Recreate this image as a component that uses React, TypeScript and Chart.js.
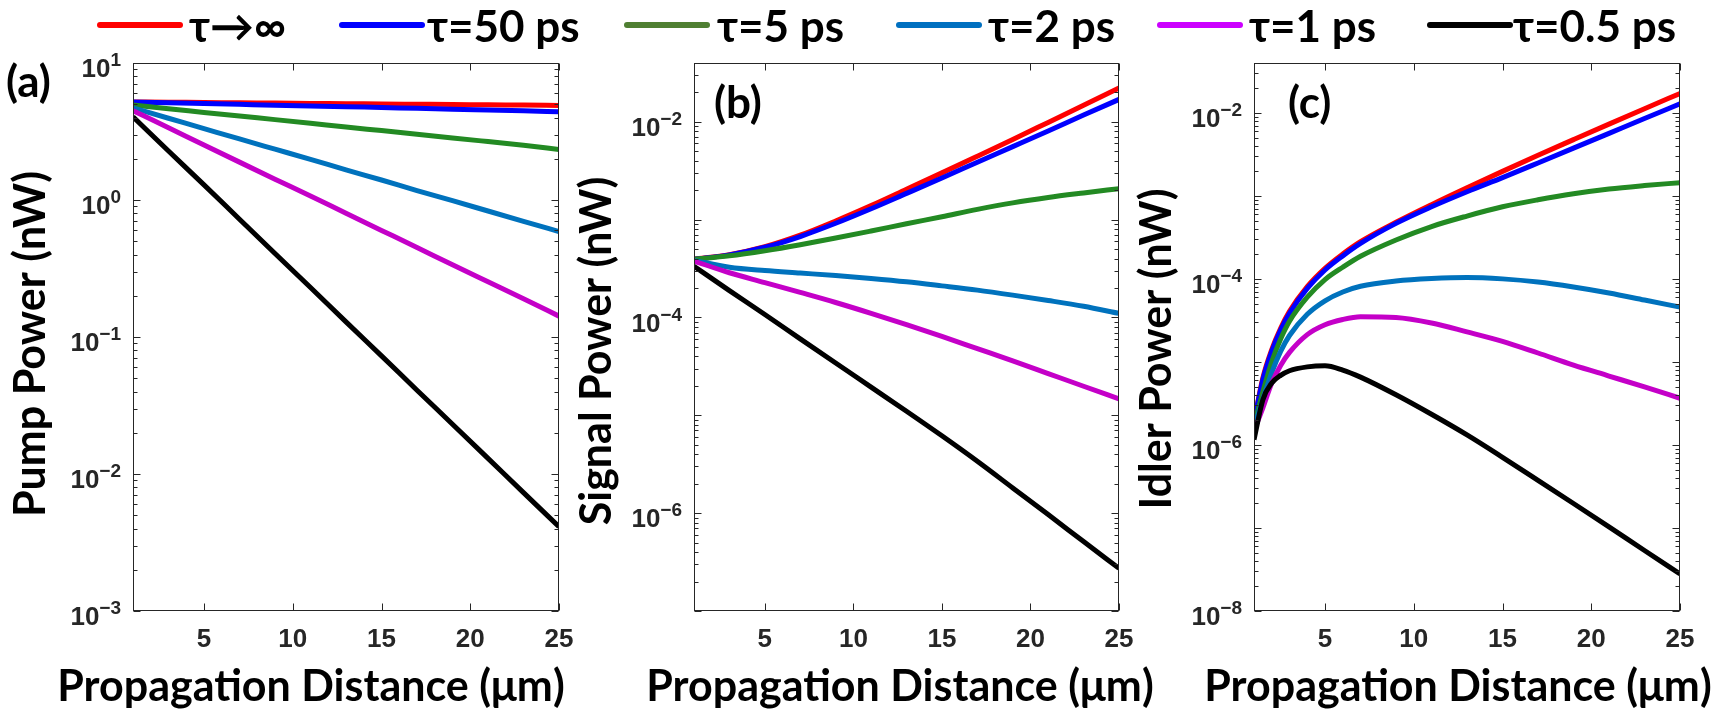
import React, { useEffect, useRef } from "react";
import { Chart, registerables } from "chart.js";

Chart.register(...registerables);

// Series labels and colours (pulse duration τ)
const SERIES_LABELS = ["τ→∞", "τ=50 ps", "τ=5 ps", "τ=2 ps", "τ=1 ps", "τ=0.5 ps"];
const SERIES_COLORS = ["#ff0000", "#0000ff", "#238a23", "#0072bd", "#c400c8", "#000000"];
const LEGEND_COLORS = ["#ff0000", "#0000ff", "#4f7f32", "#0070c0", "#cc00ff", "#000000"];

// Shared x ticks (µm)
const X_TICKS = [5, 10, 15, 20, 25];

// (a) Pump power (nW)
const PUMP_X = [1, 3, 5, 7, 9, 11, 13, 15, 17, 19, 21, 23, 25];
const PUMP_INF = [5.2, 5.17, 5.15, 5.12, 5.1, 5.07, 5.05, 5.02, 5.0, 4.98, 4.95, 4.93, 4.9];
const PUMP_50 = [5.2, 5.13, 5.06, 4.99, 4.92, 4.86, 4.8, 4.73, 4.67, 4.6, 4.54, 4.48, 4.41];
const PUMP_5 = [4.93, 4.64, 4.36, 4.1, 3.86, 3.63, 3.41, 3.21, 3.02, 2.84, 2.67, 2.51, 2.34];
const PUMP_2 = [4.7, 3.95, 3.32, 2.79, 2.35, 1.98, 1.66, 1.4, 1.17, 0.988, 0.831, 0.699, 0.588];
const PUMP_1 = [4.49, 3.37, 2.52, 1.89, 1.42, 1.07, 0.8, 0.6, 0.45, 0.337, 0.253, 0.19, 0.142];
const PUMP_05 = [4.05, 2.28, 1.29, 0.724, 0.407, 0.23, 0.129, 0.0728, 0.0409, 0.0231, 0.013, 0.00731, 0.00412];
const PUMP_Y_EXP = [-3, -2, -1, 0, 1];

// (b) Signal power (nW)
const SIGNAL_X = [1, 3, 5, 7, 9, 11, 13, 15, 17, 19, 21, 23, 25];
const SIGNAL_INF = [3.93e-4, 4.38e-4, 5.28e-4, 6.93e-4, 9.68e-4, 1.39e-3, 2.04e-3, 3.0e-3, 4.44e-3, 6.59e-3, 9.84e-3, 1.47e-2, 2.21e-2];
const SIGNAL_50 = [3.93e-4, 4.36e-4, 5.21e-4, 6.71e-4, 9.16e-4, 1.29e-3, 1.85e-3, 2.66e-3, 3.85e-3, 5.56e-3, 8.04e-3, 1.17e-2, 1.69e-2];
const SIGNAL_5 = [3.93e-4, 4.26e-4, 4.8e-4, 5.53e-4, 6.47e-4, 7.64e-4, 9.06e-4, 1.07e-3, 1.27e-3, 1.48e-3, 1.68e-3, 1.87e-3, 2.07e-3];
const SIGNAL_2 = [3.83e-4, 3.26e-4, 3.01e-4, 2.84e-4, 2.68e-4, 2.5e-4, 2.31e-4, 2.1e-4, 1.9e-4, 1.69e-4, 1.49e-4, 1.3e-4, 1.1e-4];
const SIGNAL_1 = [3.77e-4, 2.86e-4, 2.27e-4, 1.8e-4, 1.42e-4, 1.1e-4, 8.43e-5, 6.4e-5, 4.8e-5, 3.6e-5, 2.67e-5, 1.98e-5, 1.47e-5];
const SIGNAL_05 = [3.33e-4, 1.88e-4, 1.07e-4, 6.04e-5, 3.42e-5, 1.94e-5, 1.1e-5, 6.17e-6, 3.39e-6, 1.81e-6, 9.66e-7, 5.13e-7, 2.73e-7];
const SIGNAL_Y_EXP = [-6, -4, -2];

// (c) Idler power (nW)
const IDLER_X = [1, 1.5, 2, 2.5, 3, 4, 5, 6, 7, 9, 11, 13, 15, 17, 19, 21, 23, 25];
const IDLER_INF = [1.89e-6, 6.44e-6, 1.41e-5, 2.54e-5, 4.06e-5, 8.06e-5, 1.34e-4, 1.99e-4, 2.8e-4, 4.8e-4, 7.83e-4, 1.25e-3, 1.97e-3, 3.08e-3, 4.75e-3, 7.31e-3, 1.12e-2, 1.71e-2];
const IDLER_50 = [1.89e-6, 6.12e-6, 1.34e-5, 2.42e-5, 3.86e-5, 7.67e-5, 1.28e-4, 1.89e-4, 2.67e-4, 4.66e-4, 7.38e-4, 1.12e-3, 1.66e-3, 2.49e-3, 3.75e-3, 5.66e-3, 8.55e-3, 1.28e-2];
const IDLER_5 = [1.71e-6, 4.35e-6, 1.0e-5, 1.89e-5, 3.09e-5, 6.01e-5, 9.8e-5, 1.38e-4, 1.87e-4, 2.94e-4, 4.27e-4, 5.71e-4, 7.38e-4, 8.97e-4, 1.06e-3, 1.21e-3, 1.33e-3, 1.44e-3];
const IDLER_2 = [1.63e-6, 3.57e-6, 7.45e-6, 1.34e-5, 2.08e-5, 3.75e-5, 5.45e-5, 6.96e-5, 8.14e-5, 9.42e-5, 1.01e-4, 1.04e-4, 1.0e-4, 9.16e-5, 7.98e-5, 6.76e-5, 5.56e-5, 4.57e-5];
const IDLER_1 = [1.48e-6, 2.8e-6, 5.56e-6, 9.06e-6, 1.3e-5, 2.13e-5, 2.8e-5, 3.24e-5, 3.49e-5, 3.42e-5, 2.94e-5, 2.3e-5, 1.77e-5, 1.28e-5, 9.16e-6, 6.76e-6, 4.99e-6, 3.65e-6];
const IDLER_05 = [1.16e-6, 3.51e-6, 5.56e-6, 6.89e-6, 7.83e-6, 8.71e-6, 8.98e-6, 7.98e-6, 6.56e-6, 4.02e-6, 2.34e-6, 1.32e-6, 7.1e-7, 3.75e-7, 1.97e-7, 1.03e-7, 5.35e-8, 2.8e-8];
const IDLER_Y_EXP = [-8, -6, -4, -2];

const W = 1723;
const H = 721;
const TITLE_FONT = "Lato, 'Open Sans', 'DejaVu Sans', sans-serif";
const TICK_FONT = "'Liberation Sans', Arial, sans-serif";
const AXIS_COLOR = "#262626";

type PanelSpec = {
  xs: number[];
  series: number[][];
  yMin: number;
  yMax: number;
  yExp: number[];
  area: { left: number; right: number; top: number; bottom: number };
  label: string;
  labelX: number;
  labelY: number;
  yTitle: string;
  yTitleX: number;
  yTitleY: number;
  xTitleX: number;
};

const PANELS: PanelSpec[] = [
  {
    xs: PUMP_X,
    series: [PUMP_INF, PUMP_50, PUMP_5, PUMP_2, PUMP_1, PUMP_05],
    yMin: 1e-3,
    yMax: 10,
    yExp: PUMP_Y_EXP,
    area: { left: 133, right: 559, top: 63, bottom: 611 },
    label: "(a)",
    labelX: 6,
    labelY: 83,
    yTitle: "Pump Power (nW)",
    yTitleX: 31,
    yTitleY: 344,
    xTitleX: 311,
  },
  {
    xs: SIGNAL_X,
    series: [SIGNAL_INF, SIGNAL_50, SIGNAL_5, SIGNAL_2, SIGNAL_1, SIGNAL_05],
    yMin: 1e-7,
    yMax: 0.0398,
    yExp: SIGNAL_Y_EXP,
    area: { left: 694, right: 1119, top: 63, bottom: 611 },
    label: "(b)",
    labelX: 714,
    labelY: 104,
    yTitle: "Signal Power (nW)",
    yTitleX: 597,
    yTitleY: 351,
    xTitleX: 900,
  },
  {
    xs: IDLER_X,
    series: [IDLER_INF, IDLER_50, IDLER_5, IDLER_2, IDLER_1, IDLER_05],
    yMin: 1e-8,
    yMax: 0.0398,
    yExp: IDLER_Y_EXP,
    area: { left: 1254, right: 1680, top: 63, bottom: 611 },
    label: "(c)",
    labelX: 1288,
    labelY: 104,
    yTitle: "Idler Power (nW)",
    yTitleX: 1157,
    yTitleY: 349,
    xTitleX: 1458,
  },
];

const LEGEND_LINE_X = [97, 339, 624, 896, 1157, 1427];
const LEGEND_TEXT_X = [189, 427, 717, 988, 1249, 1513];

// Axes box, inward ticks, tick labels with exponents, titles and panel tag
const panelDecor = {
  id: "panelDecor",
  afterDatasetsDraw(chart: any, _args: any, opts: any) {
    const { ctx, chartArea: a, scales } = chart;
    const xs = scales.x;
    const ys = scales.y;
    const p: PanelSpec = opts.panel;
    ctx.save();

    ctx.strokeStyle = AXIS_COLOR;
    ctx.lineWidth = 1;
    const L = Math.round(a.left) + 0.5;
    const R = Math.round(a.right) - 0.5;
    const T = Math.round(a.top) + 0.5;
    const B = Math.round(a.bottom) - 0.5;
    ctx.strokeRect(L, T, R - L, B - T);

    ctx.beginPath();
    X_TICKS.forEach((v) => {
      const px = Math.round(xs.getPixelForValue(v)) + 0.5;
      ctx.moveTo(px, B);
      ctx.lineTo(px, B - 7);
      ctx.moveTo(px, T);
      ctx.lineTo(px, T + 7);
    });
    const dLo = Math.floor(Math.log10(p.yMin));
    const dHi = Math.ceil(Math.log10(p.yMax));
    for (let d = dLo; d <= dHi; d++) {
      for (let m = 1; m <= 9; m++) {
        const v = m * Math.pow(10, d);
        if (v < p.yMin * 0.999 || v > p.yMax * 1.001) continue;
        const py = Math.round(ys.getPixelForValue(v)) + 0.5;
        const len = m === 1 ? 7 : 4;
        ctx.moveTo(L, py);
        ctx.lineTo(L + len, py);
        ctx.moveTo(R, py);
        ctx.lineTo(R - len, py);
      }
    }
    ctx.stroke();

    // tick labels
    ctx.fillStyle = AXIS_COLOR;
    ctx.textBaseline = "middle";
    ctx.font = `bold 26px ${TICK_FONT}`;
    ctx.textAlign = "center";
    X_TICKS.forEach((v) => {
      ctx.fillText(String(v), xs.getPixelForValue(v), a.bottom + 29);
    });
    p.yExp.forEach((e) => {
      const py = ys.getPixelForValue(Math.pow(10, e));
      const right = a.left - 12;
      ctx.font = `bold 19px ${TICK_FONT}`;
      ctx.textAlign = "right";
      const expText = e < 0 ? "\u2212" + String(-e) : String(e);
      const ew = ctx.measureText(expText).width;
      ctx.fillText(expText, right, py - 2);
      ctx.font = `bold 26px ${TICK_FONT}`;
      ctx.fillText("10", right - ew, py + 7);
    });

    // titles
    ctx.fillStyle = "#000";
    ctx.font = `bold 43px ${TITLE_FONT}`;
    ctx.textAlign = "center";
    ctx.fillText("Propagation Distance (μm)", p.xTitleX, a.bottom + 76);
    ctx.save();
    ctx.translate(p.yTitleX, p.yTitleY);
    ctx.rotate(-Math.PI / 2);
    ctx.fillText(p.yTitle, 0, 0);
    ctx.restore();

    ctx.font = `bold 44px ${TITLE_FONT}`;
    ctx.textAlign = "left";
    ctx.fillText(p.label, p.labelX, p.labelY);
    ctx.restore();
  },
};

function Panel({ spec }: { spec: PanelSpec }) {
  const ref = useRef<HTMLCanvasElement | null>(null);
  useEffect(() => {
    if (!ref.current) return;
    const n = SERIES_LABELS.length;
    const chart = new Chart(ref.current, {
      type: "line",
      data: {
        datasets: spec.series.map((vals, i) => ({
          label: SERIES_LABELS[i],
          data: spec.xs.map((x, j) => ({ x, y: vals[j] })),
          borderColor: SERIES_COLORS[i],
          backgroundColor: SERIES_COLORS[i],
          borderWidth: 5,
          pointRadius: 0,
          cubicInterpolationMode: "monotone",
          fill: false,
          order: n - i,
        })),
      },
      options: {
        animation: false,
        responsive: false,
        events: [],
        layout: {
          padding: {
            left: spec.area.left,
            right: W - spec.area.right,
            top: spec.area.top,
            bottom: H - spec.area.bottom,
          },
        },
        plugins: {
          legend: { display: false },
          tooltip: { enabled: false },
          panelDecor: { panel: spec },
        } as any,
        scales: {
          x: { type: "linear", min: 1, max: 25, display: false },
          y: { type: "logarithmic", min: spec.yMin, max: spec.yMax, display: false },
        },
      },
      plugins: [panelDecor],
    });
    return () => chart.destroy();
  }, [spec]);
  return (
    <canvas
      ref={ref}
      width={W}
      height={H}
      style={{ position: "absolute", left: 0, top: 0, width: W, height: H }}
    />
  );
}

export default function App() {
  return (
    <div
      style={{
        position: "fixed",
        left: 0,
        top: 0,
        width: W,
        height: H,
        background: "#fff",
        overflow: "hidden",
      }}
    >
      {PANELS.map((p) => (
        <Panel key={p.label} spec={p} />
      ))}
      {SERIES_LABELS.map((lab, i) => (
        <React.Fragment key={lab}>
          <div
            style={{
              position: "absolute",
              left: LEGEND_LINE_X[i],
              top: 22,
              width: 86,
              height: 6,
              borderRadius: 3,
              background: LEGEND_COLORS[i],
            }}
          />
          <span
            style={{
              position: "absolute",
              left: LEGEND_TEXT_X[i],
              top: 25,
              transform: "translateY(-50%)",
              font: `bold 44px ${TITLE_FONT}`,
              lineHeight: 1,
              whiteSpace: "nowrap",
              color: "#000",
            }}
          >
            {lab}
          </span>
        </React.Fragment>
      ))}
    </div>
  );
}
